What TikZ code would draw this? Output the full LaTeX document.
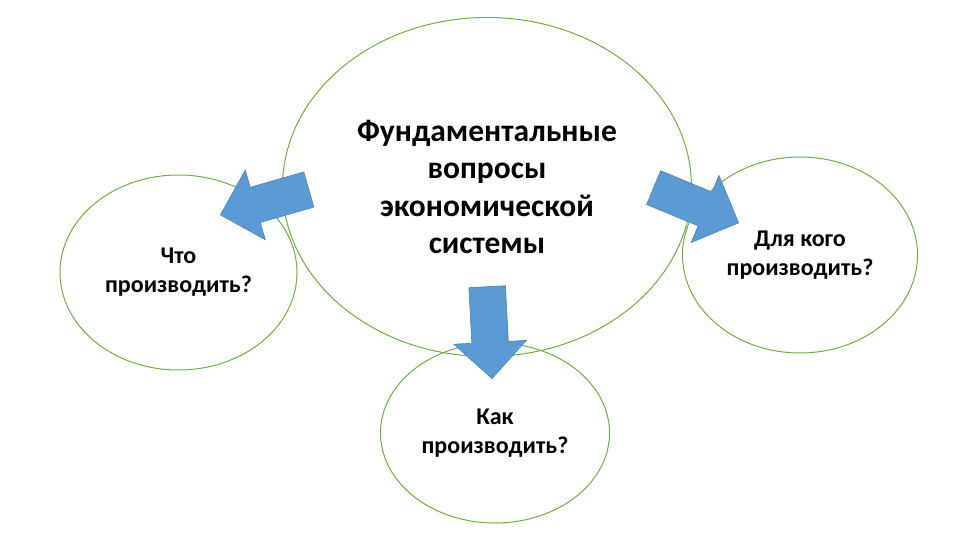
\documentclass[tikz,border=0pt]{standalone}
\usepackage{fontspec}
\setmainfont{Carlito}
\usepackage{xcolor}
\usepackage{tikz}
\usetikzlibrary{shapes.geometric, shapes.arrows}
\definecolor{ringgreen}{HTML}{70AD47}
\definecolor{arrowblue}{HTML}{5B9BD5}
\tikzstyle{bubble} = [ellipse, draw=ringgreen, line width=1pt, inner sep=0pt, align=center, font=\bfseries\fontsize{24}{29}\selectfont]
\tikzstyle{blockarrow} = [single arrow, fill=arrowblue, draw=arrowblue!85!black, line width=0.6pt, inner xsep=0pt, inner ysep=18pt, single arrow head extend=18pt, minimum height=92pt, anchor=tip]

\begin{document}
\begin{tikzpicture}[x=1pt, y=-1pt]
\useasboundingbox (0,0) rectangle (960,540);

\node[bubble, minimum width=409pt, minimum height=339pt, font=\bfseries\fontsize{31.5}{37.5}\selectfont] (core) at (487,187) {Фундаментальные\\вопросы\\экономической\\системы};

\node[bubble, minimum width=237pt, minimum height=195pt] (what) at (178.5,272.5) {Что\\производить?};

\node[bubble, minimum width=235pt, minimum height=196pt] (whom) at (800,255) {Для кого\\производить?};

\node[bubble, minimum width=229pt, minimum height=180pt] (how) at (495,433) {Как\\производить?};

% block arrows, placed by their tips
\node[blockarrow, rotate=196] (towhat) at (220,215) {};
\node[blockarrow, rotate=-22.5] (towhom) at (739,223) {};
\node[blockarrow, rotate=-87] (tohow) at (492,379) {};
\end{tikzpicture}
\end{document}
